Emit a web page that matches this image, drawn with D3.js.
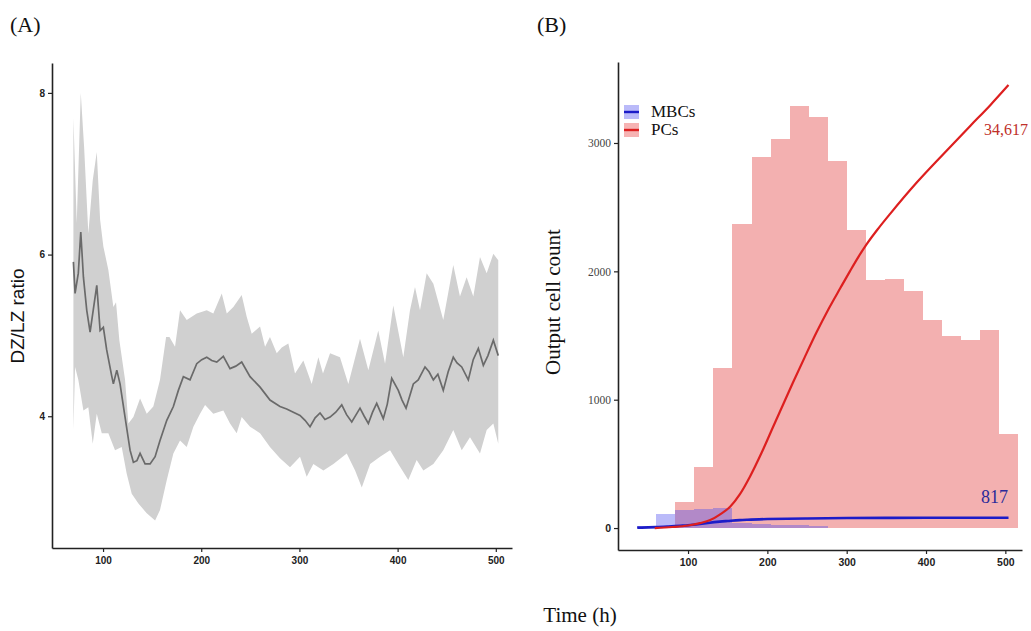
<!DOCTYPE html>
<html><head><meta charset="utf-8">
<script src="https://cdn.jsdelivr.net/npm/d3@7"></script>
<style>body{margin:0;background:#fff}</style>
</head><body>
<svg id="c" width="1031" height="631"></svg>
<script>
// ---------- Panel A data (time h, DZ/LZ ratio) ----------
const ratioMean = [[69.8,5.91],[71.5,5.52],[74.8,5.77],[77.3,6.28],[80,5.72],[83.4,5.31],[86.8,5.04],[93.6,5.62],[97,5.06],[100.3,5.10],[103.7,4.82],[108.8,4.50],[110.5,4.40],[114,4.57],[117.3,4.40],[122.4,3.99],[127.5,3.58],[130.9,3.43],[134.5,3.45],[137.7,3.54],[142.8,3.41],[147.9,3.41],[153,3.50],[158,3.70],[164.9,3.95],[171.6,4.12],[176.7,4.32],[181.8,4.49],[188.6,4.45],[195.4,4.65],[200.5,4.70],[205.6,4.73],[210.7,4.69],[215.8,4.67],[222.5,4.74],[229.3,4.59],[235.2,4.62],[241.2,4.67],[249.7,4.49],[259.9,4.36],[265,4.28],[270,4.20],[280.2,4.12],[287,4.09],[293.8,4.05],[300.6,4.01],[305.7,3.95],[310.8,3.87],[316,3.98],[321,4.04],[326,3.96],[331.2,3.99],[337,4.05],[343.1,4.14],[348,4.02],[353.3,3.93],[361.7,4.10],[366,4.00],[370.2,3.91],[374.5,4.05],[378.7,4.16],[385.4,3.97],[389.5,4.15],[394,4.47],[400.7,4.32],[404.5,4.20],[408.6,4.10],[416,4.40],[421,4.45],[427.9,4.61],[432,4.55],[436.4,4.45],[441,4.52],[446.5,4.32],[451.5,4.55],[456.7,4.73],[460.5,4.66],[465.3,4.61],[472,4.45],[477,4.70],[482.2,4.84],[487.3,4.63],[492,4.75],[497.5,4.94],[502.5,4.75]];
const ratioUpper = [[69.8,7.69],[73.2,6.39],[77.3,8.0],[80.7,7.33],[85,6.26],[89.5,6.92],[93.6,7.27],[97,6.43],[100.3,6.10],[105.4,5.81],[110.5,5.35],[113.2,5.41],[116.6,4.94],[122.4,4.45],[125.8,3.91],[130.9,3.99],[137.7,4.22],[144.5,4.03],[151.2,4.12],[158,4.45],[164.2,4.98],[167.6,4.98],[173.3,4.86],[178.4,5.31],[185.2,5.19],[195.4,5.27],[205.6,5.31],[212.3,5.27],[220.9,5.52],[226,5.27],[232.7,5.35],[241.2,5.50],[246.3,5.23],[251.4,5.02],[259.9,5.11],[265,4.86],[270,4.98],[276.9,4.78],[282,4.85],[288.7,4.90],[295.5,4.53],[304,4.69],[312.5,4.40],[319.3,4.73],[324,4.53],[331.2,4.78],[341.3,4.73],[349.8,4.40],[361.7,4.96],[370.2,4.57],[380.3,5.06],[387.2,4.65],[395.6,5.37],[405.8,4.73],[412.6,5.31],[417.7,5.60],[422.8,5.31],[429.6,5.77],[436.4,5.64],[446.5,5.19],[456.7,5.87],[463.5,5.48],[470.3,5.72],[477.1,5.48],[483.9,5.97],[490.7,5.77],[497.5,6.01],[502.5,5.93]];
const ratioLower = [[69.8,3.83],[71.5,4.61],[74.8,4.45],[80,4.07],[85,4.11],[89.5,3.66],[93.6,4.03],[98.7,3.79],[105.4,3.79],[112.2,3.58],[119,3.62],[124.1,3.29],[129.2,3.04],[136,2.92],[144.5,2.80],[153,2.71],[158,2.84],[164.9,3.21],[171.6,3.54],[178.4,3.70],[185.2,3.62],[192,3.87],[198.8,4.03],[203.9,4.14],[212.3,4.03],[222.5,4.07],[229.3,3.91],[236.1,3.79],[241.2,3.99],[249.7,3.87],[259.9,3.79],[270,3.62],[280.2,3.48],[290.4,3.37],[300.6,3.50],[307.4,3.25],[314.2,3.41],[324.4,3.33],[334.6,3.41],[348.2,3.54],[356.7,3.33],[363.5,3.12],[372,3.41],[382.1,3.50],[392.3,3.58],[400.7,3.41],[410.9,3.21],[419.4,3.46],[426.2,3.33],[436.4,3.41],[446.5,3.58],[456.7,3.83],[465.3,3.58],[473.7,3.74],[483.9,3.54],[490.7,3.83],[497.5,3.91],[502.5,3.66]];
const ticksAx = [100,200,300,400,500];
const ticksAy = [4,6,8];

// ---------- Panel B data ----------
const binStarts = [36,60,84,108,132,156,180,204,228,252,276,300,324,348,372,396,420,444,468,492];
const binWidth = 24;
const pcCounts  = [5,10,200,478,1244,2366,2893,3029,3291,3200,2860,2322,1932,1940,1847,1621,1496,1465,1543,732];
const mbcCounts = [15,109,138,146,155,40,35,25,20,15,0,0,0,0,0,0,0,0,0,0];
const pcCumT = [58,80,100,115,128,140,153,165,178,193,207,220,232,247,262,277,292,304,315,325,340,355,388,422,456,481,504];
const pcCumV = [0,8,20,38,62,105,166,260,400,590,785,965,1130,1330,1525,1705,1870,2000,2115,2210,2335,2450,2690,2915,3135,3295,3452];
const mbcCumT = [36,50,60,75,90,100,115,125,140,150,165,175,200,225,250,300,350,400,450,504];
const mbcCumV = [3,5,7,12,18,22,32,40,50,55,62,65,70,73,75,78,79,80,80,80];
const ticksBx = [100,200,300,400,500];
const ticksBy = [0,1000,2000,3000];
const legendLabels = ["MBCs","PCs"];
const totals = {pc:"34,617", mbc:"817"};

const svg = d3.select("#c");
svg.append("rect").attr("width",1031).attr("height",631).attr("fill","#fff");
const SERIF = "'Liberation Serif','Times New Roman',serif";
const SANS = "'Liberation Sans',Arial,sans-serif";
const fmt = d3.format("d");

// ================= Panel A =================
const xA = d3.scaleLinear().domain([48,516.5]).range([52,512]);
const yA = d3.scaleLinear().domain([2.37,8.37]).range([548,63]);
const gA = svg.append("g");
const ribbonPts = ratioUpper.concat(ratioLower.slice().reverse());
gA.append("path")
  .attr("d", d3.line().x(d=>xA(d[0])).y(d=>yA(d[1]))(ribbonPts)+"Z")
  .attr("fill","#d0d0d0").attr("stroke","none");
gA.append("path")
  .attr("d", d3.line().x(d=>xA(d[0])).y(d=>yA(d[1]))(ratioMean))
  .attr("fill","none").attr("stroke","#6a6a6a").attr("stroke-width",1.7);

const axAx = gA.append("g").attr("transform","translate(0,548)")
  .call(d3.axisBottom(xA).tickValues(ticksAx).tickFormat(fmt).tickSize(4).tickSizeOuter(0));
const axAy = gA.append("g").attr("transform","translate(52,0)")
  .call(d3.axisLeft(yA).tickValues(ticksAy).tickFormat(fmt).tickSize(4).tickSizeOuter(0));
[axAx,axAy].forEach(a=>{
  a.select(".domain").attr("stroke","#222").attr("stroke-width",1.6);
  a.selectAll(".tick line").attr("stroke","#222").attr("stroke-width",1.2);
  a.selectAll(".tick text").attr("font-family",SANS).attr("font-weight","bold")
    .attr("font-size",10).attr("fill","#222");
});
axAx.selectAll(".tick text").attr("dy","0.9em");
gA.append("text").attr("transform","translate(24,316) rotate(-90)")
  .attr("text-anchor","middle").attr("font-family",SANS).attr("font-size",19)
  .attr("fill","#111").text("DZ/LZ ratio");
svg.append("text").attr("x",10).attr("y",32).attr("font-family",SERIF)
  .attr("font-size",22).attr("fill","#111").text("(A)");

// ================= Panel B =================
const xB = d3.scaleLinear().domain([11.7,521]).range([618,1022]);
const yB = d3.scaleLinear().domain([-171,3631]).range([550,62]);
const gB = svg.append("g");
gB.selectAll("rect.pc").data(binStarts).join("rect").attr("class","pc")
  .attr("x",d=>xB(d)).attr("width",d=>xB(d+binWidth)-xB(d))
  .attr("y",(d,i)=>yB(pcCounts[i])).attr("height",(d,i)=>yB(0)-yB(pcCounts[i]))
  .attr("fill","#f3b0b0").attr("shape-rendering","crispEdges");
gB.selectAll("rect.mbc").data(binStarts).join("rect").attr("class","mbc")
  .attr("x",d=>xB(d)).attr("width",d=>xB(d+binWidth)-xB(d))
  .attr("y",(d,i)=>yB(mbcCounts[i])).attr("height",(d,i)=>yB(0)-yB(mbcCounts[i]))
  .attr("fill","#4a4af0").attr("fill-opacity",0.38).attr("shape-rendering","crispEdges");
const lineB = d3.line().curve(d3.curveMonotoneX);
gB.append("path")
  .attr("d", lineB(mbcCumT.map((t,i)=>[xB(t),yB(mbcCumV[i])])))
  .attr("fill","none").attr("stroke","#1c1cc8").attr("stroke-width",2.6);
gB.append("path")
  .attr("d", lineB(pcCumT.map((t,i)=>[xB(t),yB(pcCumV[i])])))
  .attr("fill","none").attr("stroke","#dd1f1f").attr("stroke-width",2.2);

const axBx = gB.append("g").attr("transform","translate(0,550)")
  .call(d3.axisBottom(xB).tickValues(ticksBx).tickFormat(fmt).tickSize(4).tickSizeOuter(0));
const axBy = gB.append("g").attr("transform","translate(618,0)")
  .call(d3.axisLeft(yB).tickValues(ticksBy).tickFormat(fmt).tickSize(4).tickSizeOuter(0));
[axBx,axBy].forEach(a=>{
  a.select(".domain").attr("stroke","#222").attr("stroke-width",1.6);
  a.selectAll(".tick line").attr("stroke","#222").attr("stroke-width",1.2);
  a.selectAll(".tick text").attr("font-family",SANS).attr("font-weight","bold")
    .attr("font-size",10.5).attr("fill","#222");
});
axBx.selectAll(".tick text").attr("dy","0.9em");
axBy.selectAll(".tick text").filter(d=>d!==0)
  .attr("font-family",SERIF).attr("font-weight","normal").attr("font-size",11.5).attr("fill","#444");

gB.append("text").attr("transform","translate(560,302) rotate(-90)")
  .attr("text-anchor","middle").attr("font-family",SERIF).attr("font-size",21)
  .attr("fill","#111").text("Output cell count");
svg.append("text").attr("x",580).attr("y",622).attr("text-anchor","middle")
  .attr("font-family",SERIF).attr("font-size",21).attr("fill","#111").text("Time (h)");
svg.append("text").attr("x",537).attr("y",32).attr("font-family",SERIF)
  .attr("font-size",22).attr("fill","#111").text("(B)");

// totals labels
gB.append("text").attr("x",1028).attr("y",135).attr("text-anchor","end")
  .attr("font-family",SERIF).attr("font-size",16).attr("fill","#c0302a").text(totals.pc);
gB.append("text").attr("x",1008).attr("y",503).attr("text-anchor","end")
  .attr("font-family",SERIF).attr("font-size",18).attr("fill","#2a2a9a").text(totals.mbc);

// legend
const legColors = [{fill:"#4a4af0",op:0.38,line:"#1c1cc8"},{fill:"#f08080",op:0.6,line:"#dd1f1f"}];
const leg = gB.append("g").attr("transform","translate(624,105)");
legendLabels.forEach((lab,i)=>{
  const gy = i*18;
  leg.append("rect").attr("x",0).attr("y",gy).attr("width",15).attr("height",14)
    .attr("fill",legColors[i].fill).attr("fill-opacity",legColors[i].op);
  leg.append("line").attr("x1",0).attr("x2",15).attr("y1",gy+7).attr("y2",gy+7)
    .attr("stroke",legColors[i].line).attr("stroke-width",2.4);
  leg.append("text").attr("x",27).attr("y",gy+12).attr("font-family",SERIF)
    .attr("font-size",17).attr("fill","#111").text(lab);
});
</script>
</body></html>
